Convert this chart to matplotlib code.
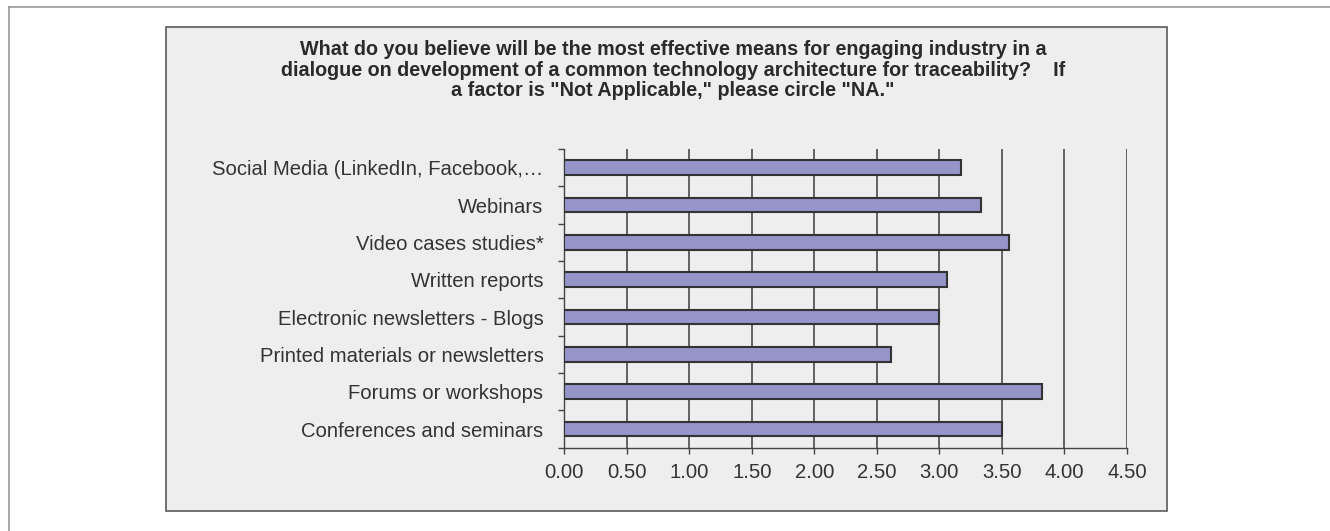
import numpy as np
import matplotlib.pyplot as plt
from matplotlib.patches import Rectangle
from matplotlib.lines import Line2D

plt.rcParams['font.family'] = ['Liberation Sans', 'DejaVu Sans']

categories = [
    'Social Media (LinkedIn, Facebook,\u2026',
    'Webinars',
    'Video cases studies*',
    'Written reports',
    'Electronic newsletters - Blogs',
    'Printed materials or newsletters',
    'Forums or workshops',
    'Conferences and seminars',
]
scores = [3.17, 3.33, 3.56, 3.06, 3.00, 2.61, 3.82, 3.50]
x_ticks = [0.0, 0.5, 1.0, 1.5, 2.0, 2.5, 3.0, 3.5, 4.0, 4.5]

title = ('What do you believe will be the most effective means for engaging industry in a\n'
         'dialogue on development of a common technology architecture for traceability?    If\n'
         'a factor is "Not Applicable," please circle "NA."')

W, H = 1330, 531
fig = plt.figure(figsize=(W / 100, H / 100), dpi=100)

# outer frame (only top and left edges visible)
fig.add_artist(Line2D([9 / W, 1], [1 - 7 / H, 1 - 7 / H], color='#9a9a9a', lw=1.2))
fig.add_artist(Line2D([9 / W, 9 / W], [0, 1 - 7 / H], color='#9a9a9a', lw=1.2))

# chart area box
fig.add_artist(Rectangle((166 / W, 1 - 511 / H), (1167 - 166) / W, (511 - 27) / H,
                         facecolor='#eeeeee', edgecolor='#5a5a5a', lw=1.2, zorder=0))

ax = fig.add_axes([564.3 / W, 1 - 447.7 / H, (1127 - 564.3) / W, (447.7 - 149) / H])
ax.set_facecolor('none')

y = np.arange(len(categories))
ax.barh(y, scores, height=0.39, color='#9595c9', edgecolor='#333333', lw=1.5, zorder=3)

ax.set_xlim(0, 4.5)
ax.set_ylim(len(categories) - 0.5, -0.5)
ax.set_xticks(x_ticks, [f'{v:.2f}' for v in x_ticks])
ax.xaxis.grid(True, color='#4a4a4a', lw=1.2, zorder=1)
ax.set_axisbelow(True)

ax.set_yticks(y, categories)
ax.set_yticks(np.arange(-0.5, len(categories)), minor=True)
ax.tick_params(axis='y', which='major', length=0, pad=15, labelsize=14.6, labelcolor='#333333')
ax.tick_params(axis='y', which='minor', length=4, width=1, color='#444444')
ax.tick_params(axis='x', length=4, width=1, color='#444444', pad=7, labelsize=14.6,
               labelcolor='#333333')

for s in ['top', 'right']:
    ax.spines[s].set_visible(False)
for s in ['left', 'bottom']:
    ax.spines[s].set_color('#444444')
    ax.spines[s].set_linewidth(1)

fig.text(673 / W, 1 - 70 / H, title, ha='center', va='center', fontsize=14.2,
         fontweight='bold', color='#2a2a2a', linespacing=1.1)

fig.savefig('out.png', dpi=100)
